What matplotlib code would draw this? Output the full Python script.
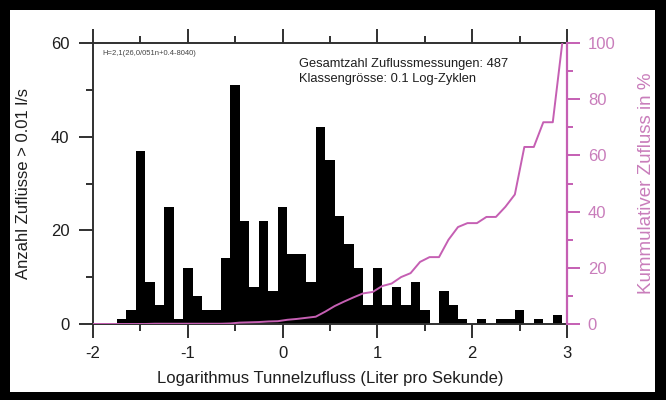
import numpy as np
import matplotlib
matplotlib.use("Agg")
import matplotlib.pyplot as plt
from matplotlib.patches import Rectangle
from matplotlib.ticker import MultipleLocator

plt.rcParams['font.family'] = ['Liberation Sans', 'DejaVu Sans']
plt.rcParams['axes.unicode_minus'] = False

# Klassenmitten in log10(l/s), Klassengroesse 0.1 Log-Zyklen
bin_centers = np.round(np.arange(-2.0, 2.95, 0.1), 1)

# Anzahl Zufluesse pro Klasse (-2.0 ... 2.9)
counts = [0, 0, 0, 1, 3, 37, 9, 4, 25, 1,
          12, 6, 3, 3, 14, 51, 22, 8, 22, 7,
          25, 15, 15, 9, 42, 35, 23, 17, 12, 4,
          12, 4, 8, 4, 9, 3, 0, 7, 4, 1,
          0, 1, 0, 1, 1, 3, 0, 1, 0, 2]

# Kummulativer Zufluss in % am oberen Rand jeder Klasse
cum_pct = [0.0, 0.0, 0.0, 0.0, 0.0, 0.0, 0.1, 0.1, 0.1, 0.1,
           0.1, 0.1, 0.1, 0.1, 0.2, 0.5, 0.6, 0.7, 0.9, 1.0,
           1.5, 1.8, 2.2, 2.6, 4.4, 6.4, 8.0, 9.5, 10.9, 11.4,
           13.5, 14.4, 16.7, 18.1, 22.1, 23.8, 23.8, 30.0, 34.5, 35.9,
           35.9, 38.1, 38.1, 41.7, 46.1, 63.0, 63.0, 71.8, 71.8, 100.0]

total_n = 487
pink = '#c55fb3'
pink_light = '#c97dbb'
axis_col = '#303030'
text_col = '#1e1e1e'

fig = plt.figure(figsize=(6.66, 4.0), dpi=100, facecolor='black')
fig.add_artist(Rectangle((10 / 666, 8 / 400), 645 / 666, 382 / 400,
                         transform=fig.transFigure, facecolor='white',
                         edgecolor='none', zorder=-1))

ax = fig.add_axes([93 / 666, 76 / 400, 474 / 666, 281 / 400])
ax.set_facecolor('none')
ax.bar(bin_centers, counts, width=0.1, color='black', linewidth=0, zorder=2)
ax.set_xlim(-2, 3)
ax.set_ylim(0, 60)

ax.xaxis.set_major_locator(MultipleLocator(1))
ax.xaxis.set_minor_locator(MultipleLocator(0.5))
ax.yaxis.set_major_locator(MultipleLocator(20))
ax.yaxis.set_minor_locator(MultipleLocator(10))
ax.tick_params(which='both', direction='out', top=True, right=False,
               color=axis_col, width=1.4, labelsize=12, labelcolor=text_col)
ax.tick_params(which='major', length=10)
ax.tick_params(which='minor', length=5)
ax.tick_params(axis='y', which='major', pad=7)
ax.tick_params(axis='x', which='major', pad=6)
for side in ['left', 'bottom', 'top']:
    ax.spines[side].set_color(axis_col)
    ax.spines[side].set_linewidth(1.4)
ax.spines['right'].set_visible(False)

ax.set_xlabel('Logarithmus Tunnelzufluss (Liter pro Sekunde)', fontsize=12,
              color=text_col, labelpad=7)
ax.set_ylabel('Anzahl Zuflüsse > 0.01 l/s', fontsize=12, color=text_col,
              labelpad=14)

# kummulative Kurve auf zweiter Achse
ax2 = ax.twinx()
edges = np.concatenate([[-2.0], bin_centers + 0.05])
ax2.plot(edges, [0.0] + cum_pct, color=pink, linewidth=1.4, zorder=3)
ax2.set_ylim(0, 100)
ax2.set_xlim(-2, 3)
ax2.yaxis.set_major_locator(MultipleLocator(20))
ax2.yaxis.set_minor_locator(MultipleLocator(10))
ax2.tick_params(which='both', direction='out', color=pink, width=1.4,
                labelsize=12, labelcolor=pink_light)
ax2.tick_params(which='major', length=9, pad=6)
ax2.tick_params(which='minor', length=4)
ax2.spines['right'].set_color(pink)
ax2.spines['right'].set_linewidth(1.6)
for side in ['left', 'bottom', 'top']:
    ax2.spines[side].set_visible(False)
ax2.set_ylabel('Kummulativer Zufluss in %', fontsize=13.5, color=pink_light,
               labelpad=16)

ax.text(0.02, 0.975, 'H=2,1(26,0/051n+0.4-8040)', transform=ax.transAxes,
        fontsize=5.5, va='top', ha='left', color='#444444')
ax.text(0.435, 0.945, f'Gesamtzahl Zuflussmessungen: {total_n}',
        transform=ax.transAxes, fontsize=9.3, va='top', ha='left', color=text_col)
ax.text(0.435, 0.895, 'Klassengrösse: 0.1 Log-Zyklen',
        transform=ax.transAxes, fontsize=9.3, va='top', ha='left', color=text_col)

fig.savefig('out.png', dpi=100, facecolor='black')
